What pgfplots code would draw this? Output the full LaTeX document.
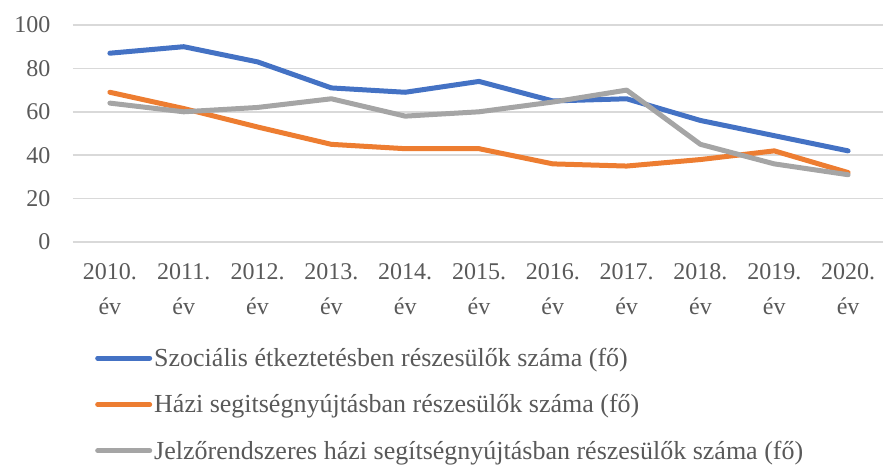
\documentclass[border=0pt]{standalone}
\usepackage{pgfplots}
\pgfplotsset{compat=1.18}
\usepackage{fontspec}
\setmainfont{Liberation Serif}
\definecolor{txt}{HTML}{595959}
\definecolor{cblue}{HTML}{4472C4}
\definecolor{corange}{HTML}{ED7D31}
\definecolor{cgray}{HTML}{A5A5A5}
\definecolor{gridc}{HTML}{D9D9D9}
\begin{document}
\begin{tikzpicture}
\begin{axis}[
  name=ax,
  scale only axis,
  width=812pt, height=217pt,
  xmin=-0.5, xmax=10.5,
  ymin=0, ymax=100,
  ytick={0,20,40,60,80,100},
  xtick={0,...,10},
  xticklabels={{2010.\\év},{2011.\\év},{2012.\\év},{2013.\\év},{2014.\\év},{2015.\\év},{2016.\\év},{2017.\\év},{2018.\\év},{2019.\\év},{2020.\\év}},
  xmajorgrids=false,
  ymajorgrids=true,
  y grid style={draw=gridc, line width=1.5pt},
  axis line style={draw=none},
  major tick length=0pt,
  /pgf/number format/assume math mode=true,
  tick label style={font=\fontsize{24}{35}\selectfont, text=txt},
  xticklabel style={align=center, yshift=-18pt},
  yticklabel style={xshift=-19pt},
  legend cell align=left,
  legend style={at={(0,0)}, anchor=north west, xshift=22pt, yshift=-104pt,
    draw=none, fill=none, font=\fontsize{26}{30}\selectfont, text=txt,
    row sep=22.5pt, inner sep=0pt},
  legend image code/.code={\draw[#1, line width=5pt] (0pt,0pt) -- (52pt,0pt);},
]
\addplot[cblue, line width=5pt, line join=round, line cap=round] coordinates {
(0,87) (1,90) (2,83) (3,71) (4,69) (5,74) (6,65) (7,66) (8,56) (9,49) (10,42)};
\addlegendentry{Szociális étkeztetésben részesülők száma (fő)}
\addplot[corange, line width=5pt, line join=round, line cap=round] coordinates {
(0,69) (1,61.5) (2,53) (3,45) (4,43) (5,43) (6,36) (7,35) (8,38) (9,42) (10,32)};
\addlegendentry{Házi segitségnyújtásban részesülők száma (fő)}
\addplot[cgray, line width=5pt, line join=round, line cap=round] coordinates {
(0,64) (1,60) (2,62) (3,66) (4,58) (5,60) (6,64.5) (7,70) (8,45) (9,36) (10,31)};
\addlegendentry{Jelzőrendszeres házi segítségnyújtásban részesülők száma (fő)}
\end{axis}
\pgfresetboundingbox
\path (ax.south west) ++(-73pt,-226pt) rectangle ++(883pt,468pt);
\end{tikzpicture}
\end{document}
